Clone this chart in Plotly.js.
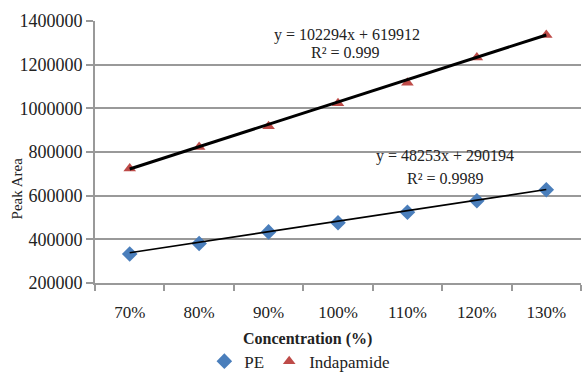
<!DOCTYPE html>
<html>
<head>
<meta charset="utf-8">
<script src="https://cdn.plot.ly/plotly-3.0.1.min.js"></script>
<style>html,body{margin:0;padding:0;background:#fff;}#chart{width:583px;height:381px;}</style>
</head>
<body>
<div id="chart"></div>
<script>
const categories = ['70%','80%','90%','100%','110%','120%','130%'];
const peValues = [333000, 381000, 434000, 476000, 524000, 577000, 627000];
const indapamideValues = [725000, 823000, 918000, 1023000, 1117000, 1233000, 1336000];
// printed trendline equations (x = category index 1..7)
const peSlope = 48253, peIntercept = 290194;
const indSlope = 102294, indIntercept = 619912;
const yTicks = [200000, 400000, 600000, 800000, 1000000, 1200000, 1400000];

const serif = '"Liberation Serif", "Times New Roman", serif';
const endX = [categories[0], categories[categories.length - 1]];
const endIdx = [1, categories.length];

const traces = [
  {x: categories, y: peValues, name: 'PE', mode: 'markers', marker: {symbol: 'diamond', size: 12, color: '#4a7ebb'}},
  {x: categories, y: indapamideValues, name: 'Indapamide', mode: 'markers', marker: {symbol: 'triangle-up', size: 11, color: '#be4b48'}},
  {x: endX, y: endIdx.map(i => indSlope * i + indIntercept), mode: 'lines', line: {color: '#000', width: 3}, showlegend: false, hoverinfo: 'skip'},
  {x: endX, y: endIdx.map(i => peSlope * i + peIntercept), mode: 'lines', line: {color: '#000', width: 1.6}, showlegend: false, hoverinfo: 'skip'}
];

function note(text, x, y, size, extra) {
  return Object.assign({text: text, xref: 'paper', yref: 'paper', x: x, y: y, xanchor: 'center', yanchor: 'middle',
    showarrow: false, font: {family: serif, size: size, color: '#222'}}, extra || {});
}

const layout = {
  width: 583, height: 381,
  margin: {l: 95, r: 2, t: 21, b: 95},
  paper_bgcolor: '#fff', plot_bgcolor: '#fff',
  font: {family: serif, size: 17, color: '#222'},
  showlegend: true,
  legend: {orientation: 'h', x: 0.225, xanchor: 'left', y: -0.3, yanchor: 'middle',
           font: {family: serif, size: 17, color: '#222'}, itemwidth: 30, tracegroupgap: 0},
  xaxis: {type: 'category', categoryorder: 'array', categoryarray: categories,
          tickson: 'boundaries', ticks: 'outside', ticklen: 6, tickcolor: '#999', tickwidth: 2,
          showgrid: false, showline: true, linecolor: '#999', linewidth: 2,
          ticklabelstandoff: 13, tickfont: {family: serif, size: 17, color: '#222'}, range: [-0.5, 6.5], fixedrange: true},
  yaxis: {range: [200000, 1400000], tickvals: yTicks, tickformat: 'd', ticks: 'outside', ticklen: 7, tickcolor: '#999', tickwidth: 2,
          showgrid: true, gridcolor: '#999', gridwidth: 2, showline: true, linecolor: '#999', linewidth: 2,
          zeroline: false, tickfont: {family: serif, size: 18, color: '#222'}, fixedrange: true},
  annotations: [
    note('y = 102294x + 619912', 0.519, 0.947, 16),
    note('R² = 0.999', 0.516, 0.879, 16),
    note('y = 48253x + 290194', 0.72, 0.483, 16),
    note('R² = 0.9989', 0.722, 0.40, 16),
    note('<b>Concentration (%)</b>', 0.438, -0.215, 16),
    note('Peak Area', -0.16, 0.362, 15, {textangle: -90})
  ]
};

Plotly.newPlot('chart', traces, layout, {displayModeBar: false, staticPlot: true});
</script>
</body>
</html>
